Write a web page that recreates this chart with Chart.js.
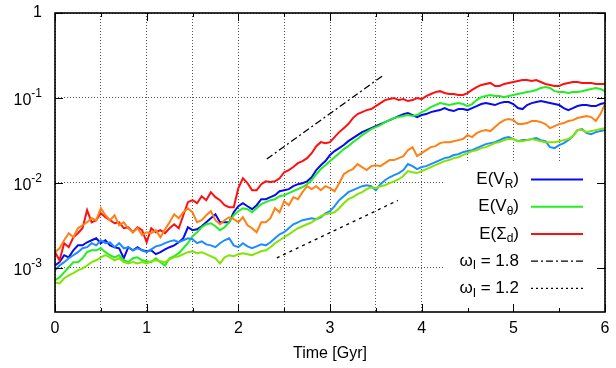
<!DOCTYPE html>
<html>
<head>
<meta charset="utf-8">
<title>Energy growth</title>
<script src="https://cdn.jsdelivr.net/npm/chart.js@4.4.1/dist/chart.umd.min.js"></script>
<style>
  html, body { margin: 0; padding: 0; background: #fff; }
  #wrap { width: 616px; height: 368px; }
</style>
</head>
<body>
<div id="wrap"><canvas id="growth" width="616" height="368"></canvas></div>
<script>
// sampling in Gyr, every 0.05 from 0 to 6
const time = Array.from({ length: 121 }, (_, i) => +(i * 0.05).toFixed(2));

// run A (in the key)
const eVR = [0.00106, 0.00116, 0.0014, 0.00132, 0.0016, 0.00183, 0.00183, 0.00199, 0.0021, 0.00222, 0.00194, 0.0021, 0.00183, 0.00174, 0.00169, 0.00129, 0.00174, 0.0016, 0.00174, 0.0016, 0.00156,
    0.0016, 0.00144, 0.00152, 0.00164, 0.00174, 0.00183, 0.00199, 0.00222, 0.00299, 0.00276, 0.00283, 0.00307, 0.00342, 0.00382, 0.00426, 0.00342, 0.00342, 0.00342, 0.00449, 0.00529,
    0.00574, 0.00529, 0.00488, 0.00544, 0.0064, 0.0064, 0.00676, 0.00713, 0.00795, 0.00817, 0.0084, 0.00911, 0.00962, 0.00988, 0.0104, 0.0116, 0.0141, 0.0161, 0.018, 0.0212,
    0.0236, 0.0256, 0.0278, 0.0309, 0.0336, 0.0364, 0.0395, 0.0417, 0.044, 0.0465, 0.0491, 0.0518, 0.0547, 0.0578, 0.061, 0.0644, 0.0662, 0.0627, 0.0594, 0.0627,
    0.0644, 0.068, 0.0699, 0.0718, 0.0758, 0.0718, 0.0699, 0.0738, 0.0738, 0.0718, 0.0758, 0.0801, 0.0845, 0.0868, 0.0845, 0.0823, 0.0868, 0.0892, 0.0892, 0.0845,
    0.0758, 0.0738, 0.0823, 0.0868, 0.0892, 0.0917, 0.0892, 0.0868, 0.0845, 0.0823, 0.0758, 0.0718, 0.0758, 0.0801, 0.0823, 0.0823, 0.0801, 0.0801, 0.0845, 0.0868];

const eVtheta = [0.00071, 0.00077, 0.00088, 0.00101, 0.00116, 0.00116, 0.00129, 0.00152, 0.0016, 0.0016, 0.00169, 0.00152, 0.0014, 0.00132, 0.0014, 0.00122, 0.00116, 0.00129, 0.00132, 0.00122, 0.00119,
    0.00116, 0.00129, 0.00116, 0.00106, 0.00129, 0.00136, 0.00148, 0.00169, 0.00194, 0.00234, 0.00261, 0.00299, 0.00324, 0.00333, 0.00307, 0.00276, 0.00299, 0.00342, 0.00414, 0.00462,
    0.00501, 0.00488, 0.00449, 0.00501, 0.00559, 0.0059, 0.00623, 0.0064, 0.00694, 0.00713, 0.00753, 0.00795, 0.0084, 0.00886, 0.00962, 0.0107, 0.0126, 0.0145, 0.0161, 0.018,
    0.02, 0.0223, 0.0249, 0.027, 0.0301, 0.0327, 0.0364, 0.0395, 0.0429, 0.0453, 0.0478, 0.0518, 0.0547, 0.0578, 0.0594, 0.061, 0.0627, 0.061, 0.0627, 0.068,
    0.0718, 0.0779, 0.0823, 0.0868, 0.0845, 0.0823, 0.0845, 0.0868, 0.0845, 0.0801, 0.0845, 0.0942, 0.102, 0.105, 0.108, 0.105, 0.105, 0.102, 0.105, 0.108,
    0.111, 0.114, 0.117, 0.12, 0.124, 0.131, 0.134, 0.131, 0.12, 0.117, 0.117, 0.114, 0.117, 0.117, 0.12, 0.124, 0.127, 0.131, 0.127, 0.12];

const eSigma = [0.00152, 0.00122, 0.00194, 0.00174, 0.00228, 0.00254, 0.00291, 0.00475, 0.00342, 0.00362, 0.00437, 0.00392, 0.00362, 0.00333, 0.00342, 0.00291, 0.00299, 0.00261, 0.00299, 0.00276, 0.00199,
    0.00291, 0.00261, 0.00276, 0.00254, 0.00291, 0.00324, 0.00291, 0.00414, 0.0059, 0.00623, 0.00574, 0.00694, 0.00623, 0.00774, 0.00676, 0.00623, 0.00544, 0.00515, 0.00515, 0.00863,
    0.0113, 0.00988, 0.00817, 0.00817, 0.00962, 0.0104, 0.0102, 0.0104, 0.0113, 0.0133, 0.0141, 0.0153, 0.017, 0.018, 0.0195, 0.0223, 0.027, 0.0301, 0.0293, 0.0301,
    0.0345, 0.0395, 0.044, 0.0491, 0.0578, 0.0644, 0.068, 0.0718, 0.0738, 0.0801, 0.0868, 0.0942, 0.0968, 0.0995, 0.0942, 0.0968, 0.0917, 0.0942, 0.0995, 0.0968,
    0.105, 0.111, 0.117, 0.12, 0.114, 0.111, 0.111, 0.108, 0.108, 0.114, 0.124, 0.134, 0.142, 0.146, 0.15, 0.138, 0.138, 0.146, 0.15, 0.154,
    0.158, 0.162, 0.162, 0.158, 0.162, 0.154, 0.146, 0.142, 0.138, 0.138, 0.146, 0.15, 0.154, 0.154, 0.15, 0.15, 0.15, 0.146, 0.146, 0.146];

// run B (same quantities, not in the key)
const eVRb = [0.00093, 0.00106, 0.00116, 0.00129, 0.0014, 0.00152, 0.00169, 0.00174, 0.00194, 0.00183, 0.0021, 0.00194, 0.00199, 0.00174, 0.00194, 0.00169, 0.00174, 0.0016, 0.00169, 0.0016, 0.00152,
    0.00164, 0.00178, 0.00183, 0.00194, 0.00204, 0.0021, 0.00199, 0.0021, 0.00222, 0.00216, 0.00194, 0.00204, 0.00188, 0.00183, 0.00174, 0.00194, 0.0021, 0.00222, 0.00183, 0.00174,
    0.00194, 0.00178, 0.00169, 0.00178, 0.00188, 0.00183, 0.00199, 0.00222, 0.00247, 0.00261, 0.00291, 0.00324, 0.00342, 0.00362, 0.00372, 0.00382, 0.00372, 0.00392, 0.00437, 0.00462,
    0.00529, 0.00623, 0.00694, 0.00774, 0.00817, 0.00863, 0.00911, 0.00936, 0.00911, 0.00817, 0.00962, 0.0107, 0.0116, 0.0123, 0.013, 0.0141, 0.0166, 0.0157, 0.0145, 0.0153,
    0.0157, 0.0166, 0.0175, 0.0185, 0.0195, 0.02, 0.0212, 0.0217, 0.0229, 0.0236, 0.0242, 0.0256, 0.027, 0.0285, 0.0293, 0.0301, 0.0318, 0.0336, 0.0345, 0.0327,
    0.0309, 0.0318, 0.0318, 0.0327, 0.0336, 0.0318, 0.0309, 0.0263, 0.0256, 0.0278, 0.0293, 0.0318, 0.0354, 0.0417, 0.0429, 0.0384, 0.0374, 0.0395, 0.0406, 0.0417];

const eVthetaB = [0.00067, 0.00065, 0.00075, 0.00081, 0.00086, 0.00093, 0.00098, 0.00106, 0.00116, 0.00122, 0.00132, 0.0014, 0.00132, 0.00122, 0.00129, 0.00116, 0.00112, 0.00116, 0.00112, 0.00116, 0.00112,
    0.00119, 0.00122, 0.00119, 0.00116, 0.00125, 0.00132, 0.00136, 0.00144, 0.00152, 0.00156, 0.00148, 0.00152, 0.00144, 0.00136, 0.00129, 0.00112, 0.00132, 0.0014, 0.00136, 0.00144,
    0.00148, 0.00144, 0.0014, 0.00148, 0.00156, 0.0016, 0.00174, 0.00194, 0.0021, 0.00228, 0.00247, 0.00268, 0.00291, 0.00307, 0.00324, 0.00342, 0.00372, 0.00403, 0.00426, 0.00437,
    0.00449, 0.00501, 0.00574, 0.0064, 0.00676, 0.00733, 0.00774, 0.0084, 0.00886, 0.00863, 0.00911, 0.00936, 0.00988, 0.0104, 0.011, 0.012, 0.0137, 0.0133, 0.013, 0.0137,
    0.0145, 0.0153, 0.0161, 0.017, 0.018, 0.0185, 0.0195, 0.02, 0.0212, 0.0223, 0.0236, 0.0242, 0.0256, 0.0263, 0.0278, 0.0293, 0.0301, 0.0318, 0.0327, 0.0327,
    0.0309, 0.0309, 0.0318, 0.0327, 0.0318, 0.0309, 0.0301, 0.0301, 0.0301, 0.0309, 0.0318, 0.0327, 0.0354, 0.0417, 0.0417, 0.0395, 0.0406, 0.0417, 0.0429, 0.044];

const eSigmaB = [0.00152, 0.00169, 0.0021, 0.00254, 0.00228, 0.00291, 0.00316, 0.00342, 0.00382, 0.00362, 0.00501, 0.00414, 0.00362, 0.00414, 0.00316, 0.00342, 0.00291, 0.00261, 0.00291, 0.00241, 0.00261,
    0.00254, 0.00276, 0.00228, 0.00283, 0.00342, 0.00426, 0.00382, 0.00449, 0.00501, 0.00449, 0.00342, 0.00362, 0.00414, 0.00462, 0.00362, 0.00324, 0.00362, 0.00392, 0.00372, 0.00342,
    0.00392, 0.00316, 0.00291, 0.00261, 0.00342, 0.00342, 0.00382, 0.00501, 0.00449, 0.00606, 0.00544, 0.00676, 0.0064, 0.00774, 0.00911, 0.0084, 0.00911, 0.00817, 0.00911, 0.00863,
    0.00795, 0.00988, 0.0126, 0.0137, 0.0145, 0.0166, 0.0153, 0.0141, 0.0157, 0.0161, 0.0157, 0.017, 0.0185, 0.0185, 0.0195, 0.0206, 0.0242, 0.0263, 0.0206, 0.0223,
    0.0242, 0.0263, 0.027, 0.0293, 0.0301, 0.0301, 0.0309, 0.0318, 0.0327, 0.0364, 0.0345, 0.0384, 0.0406, 0.0417, 0.0406, 0.0453, 0.0505, 0.0547, 0.0562, 0.0547,
    0.0491, 0.0491, 0.0505, 0.0533, 0.0533, 0.0518, 0.0491, 0.044, 0.0465, 0.0491, 0.0505, 0.0533, 0.0547, 0.0578, 0.0594, 0.061, 0.0594, 0.0533, 0.0644, 0.0845];

// exponential growth guides, end points
const fit18T = [2.31, 3.57];
const fit18E = [0.019, 0.181];
const fit12T = [2.42, 3.74];
const fit12E = [0.0013, 0.0062];

// axes
const xGridTicks = [0, 0.5, 1, 1.5, 2, 2.5, 3, 3.5, 4, 4.5, 5, 5.5, 6];
const xTickLabels = ['0', '1', '2', '3', '4', '5', '6'];
const yTicks = [0.001, 0.01, 0.1, 1];
const yTickBase = ['10', '10', '10', '1'];
const yTickExp = ['-3', '-2', '-1', ''];
const xTitle = 'Time [Gyr]';

const FONT = '"Liberation Sans", Arial, Helvetica, sans-serif';
const C_BLUE = '#0a0aee', C_GREEN = '#22ee22', C_RED = '#ff1010';
const C_ORANGE = '#ff8015', C_DODGER = '#1e8cff', C_LIME = '#7fe600';

const legendItems = [
    { parts: [['E(V', 0], ['R', 1], [')', 0]], color: C_BLUE, width: 2, dash: [] },
    { parts: [['E(V', 0], ['\u03b8', 1], [')', 0]], color: C_GREEN, width: 2, dash: [] },
    { parts: [['E(\u03a3', 0], ['d', 1], [')', 0]], color: C_RED, width: 2, dash: [] },
    { parts: [['\u03c9', 0], ['I', 1], [' = 1.8', 0]], color: '#000', width: 1.3, dash: [7, 3, 2, 3] },
    { parts: [['\u03c9', 0], ['I', 1], [' = 1.2', 0]], color: '#000', width: 1.3, dash: [2, 3] }
];

function toPoints(xs, ys) {
    return xs.map((t, i) => ({ x: t, y: ys[i] }));
}

function series(values, color, order) {
    return {
        data: toPoints(time, values),
        borderColor: color,
        borderWidth: 2,
        pointRadius: 0,
        tension: 0,
        fill: false,
        order: order
    };
}

function guide(ts, es, dash) {
    return {
        data: toPoints(ts, es),
        borderColor: '#000',
        borderWidth: 1.3,
        borderDash: dash,
        pointRadius: 0,
        fill: false,
        order: 0
    };
}

// draws a label made of normal and subscript pieces, right aligned
function drawRich(ctx, parts, xRight, y, size) {
    const subSize = Math.round(size * 0.72);
    let total = 0;
    parts.forEach(([txt, sub]) => {
        ctx.font = (sub ? subSize : size) + 'px ' + FONT;
        total += ctx.measureText(txt).width;
    });
    let x = xRight - total;
    ctx.textAlign = 'left';
    ctx.textBaseline = 'middle';
    parts.forEach(([txt, sub]) => {
        ctx.font = (sub ? subSize : size) + 'px ' + FONT;
        ctx.fillText(txt, x, sub ? y + 5 : y);
        x += ctx.measureText(txt).width;
    });
}

const frameAndKey = {
    id: 'frameAndKey',
    beforeDatasetsDraw(chart) {
        // the key sits on an opaque box over the grid
        const { ctx, chartArea: a } = chart;
        ctx.save();
        ctx.fillStyle = '#fff';
        ctx.fillRect(445, 163, a.right - 445 - 1, a.bottom - 163 - 1);
        ctx.restore();
    },
    afterDraw(chart) {
        const { ctx, chartArea: a, scales: { x, y } } = chart;
        ctx.save();

        // inward tick marks on all four sides
        ctx.strokeStyle = '#000';
        ctx.lineWidth = 1;
        ctx.beginPath();
        xGridTicks.forEach(v => {
            const px = Math.round(x.getPixelForValue(v)) + 0.5;
            const len = Number.isInteger(v) ? 8 : 4;
            ctx.moveTo(px, a.bottom); ctx.lineTo(px, a.bottom - len);
            ctx.moveTo(px, a.top); ctx.lineTo(px, a.top + len);
        });
        yTicks.forEach(v => {
            const py = Math.round(y.getPixelForValue(v)) + 0.5;
            ctx.moveTo(a.left, py); ctx.lineTo(a.left + 8, py);
            ctx.moveTo(a.right, py); ctx.lineTo(a.right - 8, py);
        });
        ctx.stroke();

        ctx.lineWidth = 1.6;
        ctx.strokeRect(a.left, a.top, a.right - a.left, a.bottom - a.top);

        ctx.fillStyle = '#000';

        // x tick labels and title
        ctx.font = '16px ' + FONT;
        ctx.textAlign = 'center';
        ctx.textBaseline = 'middle';
        xTickLabels.forEach(lbl => {
            ctx.fillText(lbl, x.getPixelForValue(+lbl), a.bottom + 17);
        });
        ctx.fillText(xTitle, (a.left + a.right) / 2, a.bottom + 42);

        // y tick labels as powers of ten
        yTicks.forEach((v, i) => {
            const py = y.getPixelForValue(v);
            const right = a.left - 13;
            ctx.font = '12px ' + FONT;
            const ew = ctx.measureText(yTickExp[i]).width;
            ctx.textAlign = 'right';
            ctx.font = '16px ' + FONT;
            ctx.fillText(yTickBase[i], right - ew, yTickExp[i] ? py + 3 : py);
            if (yTickExp[i]) {
                ctx.font = '12px ' + FONT;
                ctx.textAlign = 'left';
                ctx.fillText(yTickExp[i], right - ew, py - 4);
            }
        });

        // key
        legendItems.forEach((item, i) => {
            const ly = 179.5 + i * 27.2;
            ctx.fillStyle = '#000';
            drawRich(ctx, item.parts, 519, ly, 17);
            ctx.strokeStyle = item.color;
            ctx.lineWidth = item.width;
            ctx.setLineDash(item.dash);
            ctx.beginPath();
            ctx.moveTo(531, ly);
            ctx.lineTo(583, ly);
            ctx.stroke();
            ctx.setLineDash([]);
        });

        ctx.restore();
    }
};

new Chart(document.getElementById('growth'), {
    type: 'line',
    data: {
        datasets: [
            series(eVthetaB, C_LIME, 1),
            series(eVRb, C_DODGER, 2),
            series(eSigmaB, C_ORANGE, 3),
            series(eSigma, C_RED, 4),
            series(eVtheta, C_GREEN, 5),
            series(eVR, C_BLUE, 6),
            guide(fit18T, fit18E, [7, 3, 2, 3]),
            guide(fit12T, fit12E, [3, 4])
        ]
    },
    options: {
        responsive: false,
        devicePixelRatio: 1,
        animation: false,
        layout: { padding: { left: 55, right: 11, top: 13, bottom: 56 } },
        plugins: { legend: { display: false }, tooltip: { enabled: false } },
        scales: {
            x: {
                type: 'linear',
                min: 0,
                max: 6,
                afterBuildTicks: s => { s.ticks = xGridTicks.map(v => ({ value: v })); },
                ticks: { display: false },
                grid: { color: '#555', lineWidth: 1, drawTicks: false },
                border: { display: false, dash: [1, 2] }
            },
            y: {
                type: 'logarithmic',
                min: 0.0003,
                max: 1,
                afterBuildTicks: s => { s.ticks = yTicks.map(v => ({ value: v })); },
                ticks: { display: false },
                grid: { color: '#555', lineWidth: 1, drawTicks: false },
                border: { display: false, dash: [1, 2] }
            }
        }
    },
    plugins: [frameAndKey]
});
</script>
</body>
</html>
